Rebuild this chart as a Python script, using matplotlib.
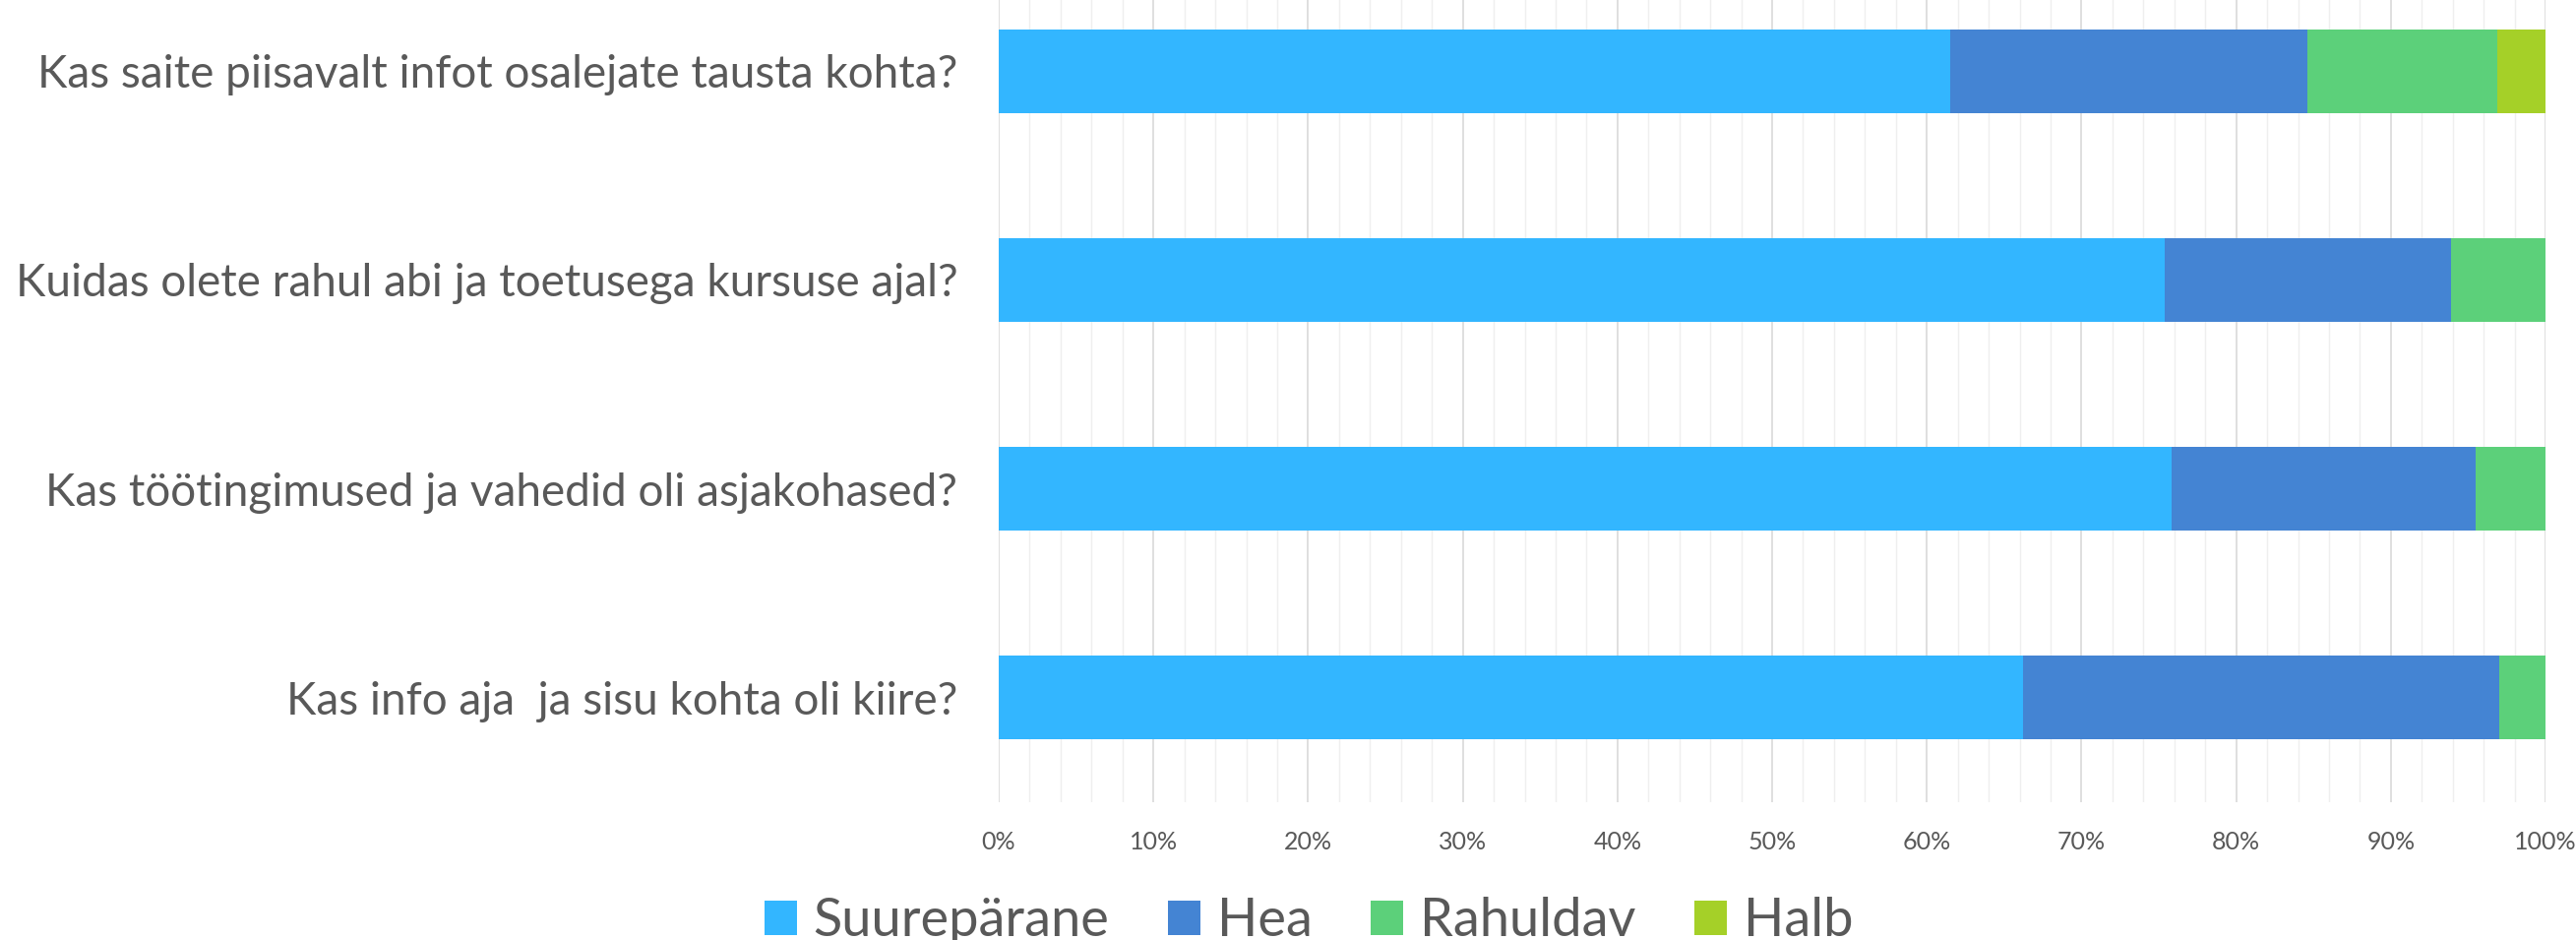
import numpy as np
import matplotlib.pyplot as plt
from matplotlib.ticker import MultipleLocator, FuncFormatter

# küsimused (alt üles, nagu graafikul)
questions = ['Kas info aja  ja sisu kohta oli kiire?',
             'Kas töötingimused ja vahedid oli asjakohased?',
             'Kuidas olete rahul abi ja toetusega kursuse ajal?',
             'Kas saite piisavalt infot osalejate tausta kohta?']

series_names = ['Suurepärane', 'Hea', 'Rahuldav', 'Halb']
suureparane = [66.2, 75.8, 75.4, 61.5]
hea = [30.8, 19.7, 18.5, 23.1]
rahuldav = [3.1, 4.5, 6.2, 12.3]
halb = [0.0, 0.0, 0.0, 3.1]

colors = ['#33b6ff', '#4484d3', '#5cd07a', '#a5d028']

plt.rcParams['font.family'] = ['Lato', 'DejaVu Sans']
text_color = '#595959'

fig = plt.figure(figsize=(26.18, 9.55), dpi=100)
ax = fig.add_axes([0.3877, 0.1466, 0.6005, 0.889])

y = np.arange(len(questions))
left = np.zeros(len(questions))
for name, vals, col in zip(series_names, [suureparane, hea, rahuldav, halb], colors):
    ax.barh(y, vals, left=left, height=0.4, color=col, label=name, zorder=3)
    left = left + np.array(vals)

ax.set_xlim(0, 100)
ax.set_ylim(-0.5, len(questions) - 0.5)

ax.xaxis.set_major_locator(MultipleLocator(10))
ax.xaxis.set_minor_locator(MultipleLocator(2))
ax.xaxis.set_major_formatter(FuncFormatter(lambda v, p: f'{v:.0f}%'))
ax.grid(axis='x', which='major', color='#d9d9d9', linewidth=1.2, zorder=0)
ax.grid(axis='x', which='minor', color='#efefef', linewidth=1.0, zorder=0)

ax.set_yticks(y)
ax.set_yticklabels(questions)
ax.tick_params(axis='y', length=0, pad=30, labelsize=33, labelcolor=text_color)
ax.tick_params(axis='x', which='both', length=0, pad=21, labelsize=18, labelcolor=text_color)

for s in ax.spines.values():
    s.set_visible(False)

fig.legend(loc='center', bbox_to_anchor=(0.508, 0.02), ncol=4, frameon=False,
           fontsize=39, labelcolor=text_color, handlelength=0.61, handleheight=0.61,
           handletextpad=0.31, columnspacing=1.1, borderpad=0)

plt.savefig('out.png', dpi=100)
